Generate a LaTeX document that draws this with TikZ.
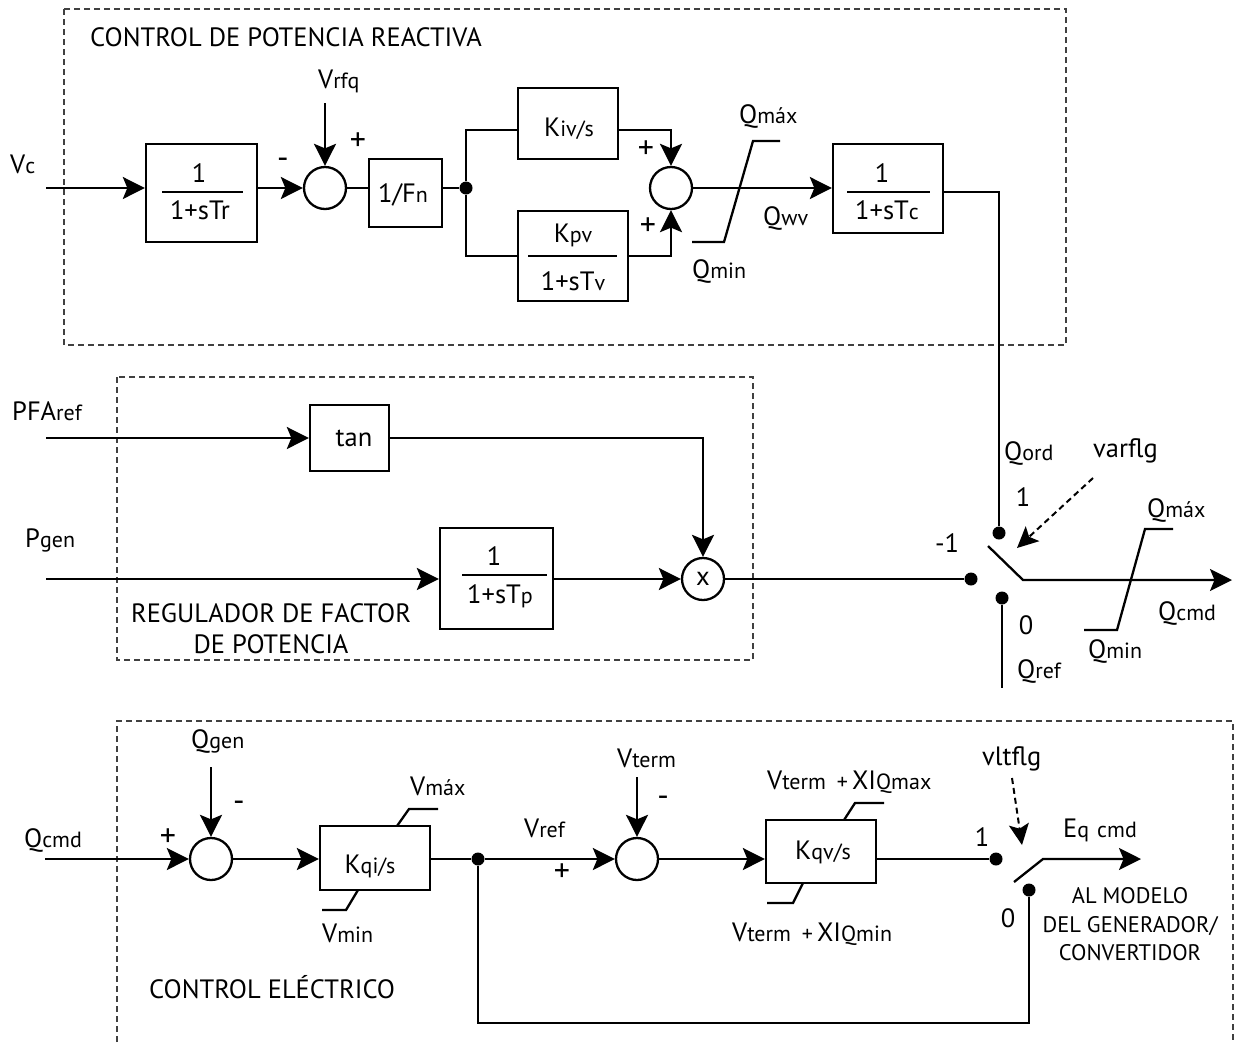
\documentclass[tikz,border=0pt]{standalone}
\usepackage{fontspec}
\setmainfont{PT Sans}
\usetikzlibrary{arrows.meta,calc}
\newcommand{\sm}[1]{{\fontsize{22}{26}\selectfont #1}}
\tikzset{
  blk/.style={draw, line width=2.3pt, rectangle, inner sep=0pt},
  sumc/.style={draw, line width=2.3pt, circle, minimum size=42pt, inner sep=0pt},
  lab/.style={inner sep=0pt},
  sgn/.style={inner sep=0pt, font=\fontsize{32}{36}\selectfont},
  wire/.style={line width=2.3pt},
  sig/.style={line width=2.3pt, -{Stealth[length=22pt,width=22pt,inset=4.5pt]}},
  flag/.style={line width=2pt, dash pattern=on 6pt off 4pt, -{Stealth[length=21pt,width=20pt,inset=4.5pt]}},
  frame/.style={line width=1.1pt, dash pattern=on 6pt off 4pt, draw=black!75},
  dotn/.style={circle, fill, inner sep=0pt, minimum size=13pt},
  lim/.style={line width=2.3pt},
  rul/.style={line width=1.3pt},
  small/.style={font=\fontsize{22.5}{26}\selectfont},
}
\begin{document}
\begin{tikzpicture}[x=1pt,y=-1pt,font=\fontsize{26.5}{31}\selectfont]
\useasboundingbox (0,0) rectangle (1241,1042);

% frames
\draw[frame] (64,9) rectangle (1066,345);
\draw[frame] (117,377) rectangle (753,660);
\draw[frame] (117,1042) -- (117,721) -- (1233,721) -- (1233,1042);

% ================= TOP =================
\node[lab, anchor=base west] (t1) at (90,46.7) {CONTROL DE POTENCIA REACTIVA};
\node[lab, anchor=base west] (vc) at (10,173) {V\sm{c}};
\coordinate (vcin) at (46,188);
\node[blk, minimum width=111pt, minimum height=98pt] (b1) at (201.5,193) {};
\draw[rul] (162,192) -- (243,192);
\node[lab, anchor=base] (b1n) at (199,182) {1};
\node[lab, anchor=base] (b1d) at (200,219) {1+sTr};
\draw[sig] (vcin) -- (b1.west |- vcin);

\node[sumc] (s1) at (325,188) {};
\draw[sig] (b1.east |- s1) -- (s1.west);
\node[sgn] (m1) at (283,163) {-};
\node[sgn] (p1) at (358,142) {+};
\node[lab, anchor=base west] (vrfq) at (318,88) {V\sm{rfq}};
\coordinate (vrfqin) at (325,103);
\draw[sig] (vrfqin) -- (s1.north);

\node[blk, minimum width=73pt, minimum height=68pt] (fn) at (405.5,193) {};
\node[lab, anchor=base] (fnt) at (403,202) {1/F\sm{n}};
\draw[wire] (s1.east) -- (fn.west |- s1.east);
\node[dotn] (dt1) at (466,188) {};
\draw[wire] (fn.east |- dt1) -- (dt1);

\coordinate (br1) at (466,130);
\node[blk, minimum width=100pt, minimum height=71pt] (kiv) at (568,123.5) {};
\node[lab, anchor=base] (kivt) at (569,136) {K\sm{iv/s}};
\node[blk, minimum width=110pt, minimum height=90pt] (kpv) at (573,256) {};
\draw[rul] (528,256) -- (617,256);
\node[lab, anchor=base] (kpvn) at (573,242) {K\sm{pv}};
\node[lab, anchor=base] (kpvd) at (573,290) {1+sT\sm{v}};
\draw[wire] (dt1) |- (kiv.west |- br1);
\draw[wire] (dt1) |- (kpv.west);

\node[sumc] (s2) at (671,188) {};
\draw[sig] (kiv.east |- br1) -| (s2.north);
\draw[sig] (kpv.east) -| (s2.south);
\node[sgn] (p2) at (646,150) {+};
\node[sgn] (p3) at (648,227) {+};

\node[blk, minimum width=110pt, minimum height=89pt] (b3) at (888,188.5) {};
\draw[rul] (847,192) -- (930,192);
\node[lab, anchor=base] (b3n) at (882,182) {1};
\node[lab, anchor=base] (b3d) at (887,219) {1+sT\sm{c}};
\draw[sig] (s2.east) -- (b3.west |- s2.east);
\draw[lim] (692,242) -- (724,242) -- (753,141) -- (780,141);
\node[lab, anchor=base west] (qmax1) at (739,123) {Q\sm{máx}};
\node[lab, anchor=base west] (qmin1) at (692,278) {Q\sm{min}};
\node[lab, anchor=base west] (qwv) at (763,225) {Q\sm{wv}};

% ================= SWITCH 1 =================
\node[dotn] (d1) at (999,533) {};
\node[dotn] (dm1) at (971,579) {};
\node[dotn] (d0) at (1002,598) {};
\coordinate (b3o) at (950,192);
\draw[wire] (b3.east |- b3o) -| (d1);
\node[lab, anchor=base west] (qord) at (1004,460) {Q\sm{ord}};
\node[lab, anchor=base west] (varflg) at (1093,457) {varflg};
\coordinate (vf1) at (1093,478);
\coordinate (vf2) at (1017,548);
\draw[flag] (vf1) -- (vf2);
\node[lab] (l1a) at (1023,497) {1};
\node[lab] (lm1) at (947,543) {-1};
\node[lab] (l0a) at (1026,625) {0};
\coordinate (qref) at (1002,688);
\draw[wire] (d0) -- (qref);
\node[lab, anchor=base west] (qreft) at (1017,678) {Q\sm{ref}};
\coordinate (bl1) at (988,546);
\coordinate (bl2) at (1023,580);
\coordinate (qcout) at (1232,580);
\draw[sig] (bl1) -- (bl2) -- (qcout);
\draw[lim] (1084,630) -- (1117,630) -- (1145,529) -- (1173,529);
\node[lab, anchor=base west] (qmax2) at (1147,517) {Q\sm{máx}};
\node[lab, anchor=base west] (qcmd1) at (1158,620) {Q\sm{cmd}};
\node[lab, anchor=base west] (qmin2) at (1088,658) {Q\sm{min}};

% ================= MIDDLE =================
\node[lab, anchor=base west] (pfa) at (12,420) {PFA\sm{ref}};
\coordinate (pfin) at (46,438);
\node[blk, minimum width=79pt, minimum height=66pt] (tan) at (349.5,438) {};
\node[lab, anchor=base] (tant) at (354,446) {tan};
\draw[sig] (pfin) -- (tan.west |- pfin);
\node[lab, anchor=base west] (pgen) at (25,547) {P\sm{gen}};
\coordinate (pgin) at (46,579);
\node[blk, minimum width=113pt, minimum height=101pt] (tp) at (496.5,578.5) {};
\draw[rul] (462,575) -- (547,575);
\node[lab, anchor=base] (tpn) at (494,565) {1};
\node[lab, anchor=base] (tpd) at (500,603) {1+sT\sm{p}};
\draw[sig] (pgin) -- (tp.west |- pgin);
\node[sumc] (mx) at (703,579) {x};
\draw[sig] (tan.east) -| (mx.north);
\draw[sig] (tp.east |- mx) -- (mx.west);
\draw[wire] (mx.east) -- (dm1);
\node[lab, anchor=base] (reg1) at (271,622) {REGULADOR DE FACTOR};
\node[lab, anchor=base] (reg2) at (271,653) {DE POTENCIA};

% ================= BOTTOM =================
\node[lab, anchor=base west] (qcmd2) at (24,847) {Q\sm{cmd}};
\node[sumc] (s4) at (211,859) {};
\coordinate (qcin) at (45,859);
\draw[sig] (qcin) -- (s4.west);
\node[sgn] (p4) at (168,838) {+};
\node[lab, anchor=base west] (qgen) at (191,748) {Q\sm{gen}};
\coordinate (qg) at (211,767);
\draw[sig] (qg) -- (s4.north);
\node[sgn] (m4) at (239,806) {-};

\node[blk, minimum width=110pt, minimum height=64pt] (kqi) at (375,858) {};
\node[lab, anchor=base] (kqit) at (370,873) {K\sm{qi/s}};
\draw[sig] (s4.east) -- (kqi.west |- s4.east);
\draw[lim] (397,826) -- (409,809) -- (438,809);
\draw[lim] (358,890) -- (346,910) -- (322,910);
\node[lab, anchor=base west] (vmax) at (410,795) {V\sm{máx}};
\node[lab, anchor=base west] (vmin) at (322,942) {V\sm{min}};

\node[dotn] (d2) at (478,859) {};
\draw[wire] (kqi.east |- d2) -- (d2);
\node[sumc] (s3) at (637,859) {};
\draw[sig] (d2) -- (s3.west);
\node[lab, anchor=base west] (vref) at (524,837) {V\sm{ref}};
\node[sgn] (p5) at (562,873) {+};
\node[lab, anchor=base west] (vterm) at (617,767) {V\sm{term}};
\coordinate (vt) at (637,777);
\draw[sig] (vt) -- (s3.north);
\node[sgn] (m5) at (663,801) {-};

\node[blk, minimum width=110pt, minimum height=63pt] (kqv) at (821,851.5) {};
\node[lab, anchor=base] (kqvt) at (823,859) {K\sm{qv/s}};
\draw[sig] (s3.east) -- (kqv.west |- s3.east);
\draw[lim] (844,820) -- (855,803) -- (884,803);
\draw[lim] (803,883) -- (793,903) -- (767,903);
\node[lab, anchor=base west] (vqmax) at (767,789) {V\sm{term}\hspace{11pt}\sm{+}\hspace{4pt}XI\sm{Qmax}};
\node[lab, anchor=base west] (vqmin) at (732,941) {V\sm{term}\hspace{11pt}\sm{+}\hspace{4pt}XI\sm{Qmin}};

\node[dotn] (e1) at (996,859) {};
\draw[wire] (kqv.east |- e1) -- (e1);
\node[dotn] (e0) at (1029,890) {};
\coordinate (fb1) at (1029,1023);
\draw[wire] (e0) -- (fb1) -| (d2);
\node[lab] (l1b) at (982,837) {1};
\node[lab] (l0b) at (1008,918) {0};
\node[lab, anchor=base west] (vltflg) at (982,765) {vltflg};
\coordinate (vl1) at (1012,778);
\coordinate (vl2) at (1022,845);
\draw[flag] (vl1) -- (vl2);
\coordinate (bb1) at (1014,882);
\coordinate (bb2) at (1043,859);
\coordinate (eqout) at (1141,859);
\draw[sig] (bb1) -- (bb2) -- (eqout);
\node[lab, anchor=base west] (eq) at (1063,837) {E\sm{q\hspace{8pt}cmd}};
\node[lab, small, anchor=base] (al1) at (1130,903) {AL MODELO};
\node[lab, small, anchor=base] (al2) at (1130,932) {DEL GENERADOR/};
\node[lab, small, anchor=base] (al3) at (1130,960) {CONVERTIDOR};
\node[lab, anchor=base west] (ce) at (149,998) {CONTROL ELÉCTRICO};
\end{tikzpicture}
\end{document}
